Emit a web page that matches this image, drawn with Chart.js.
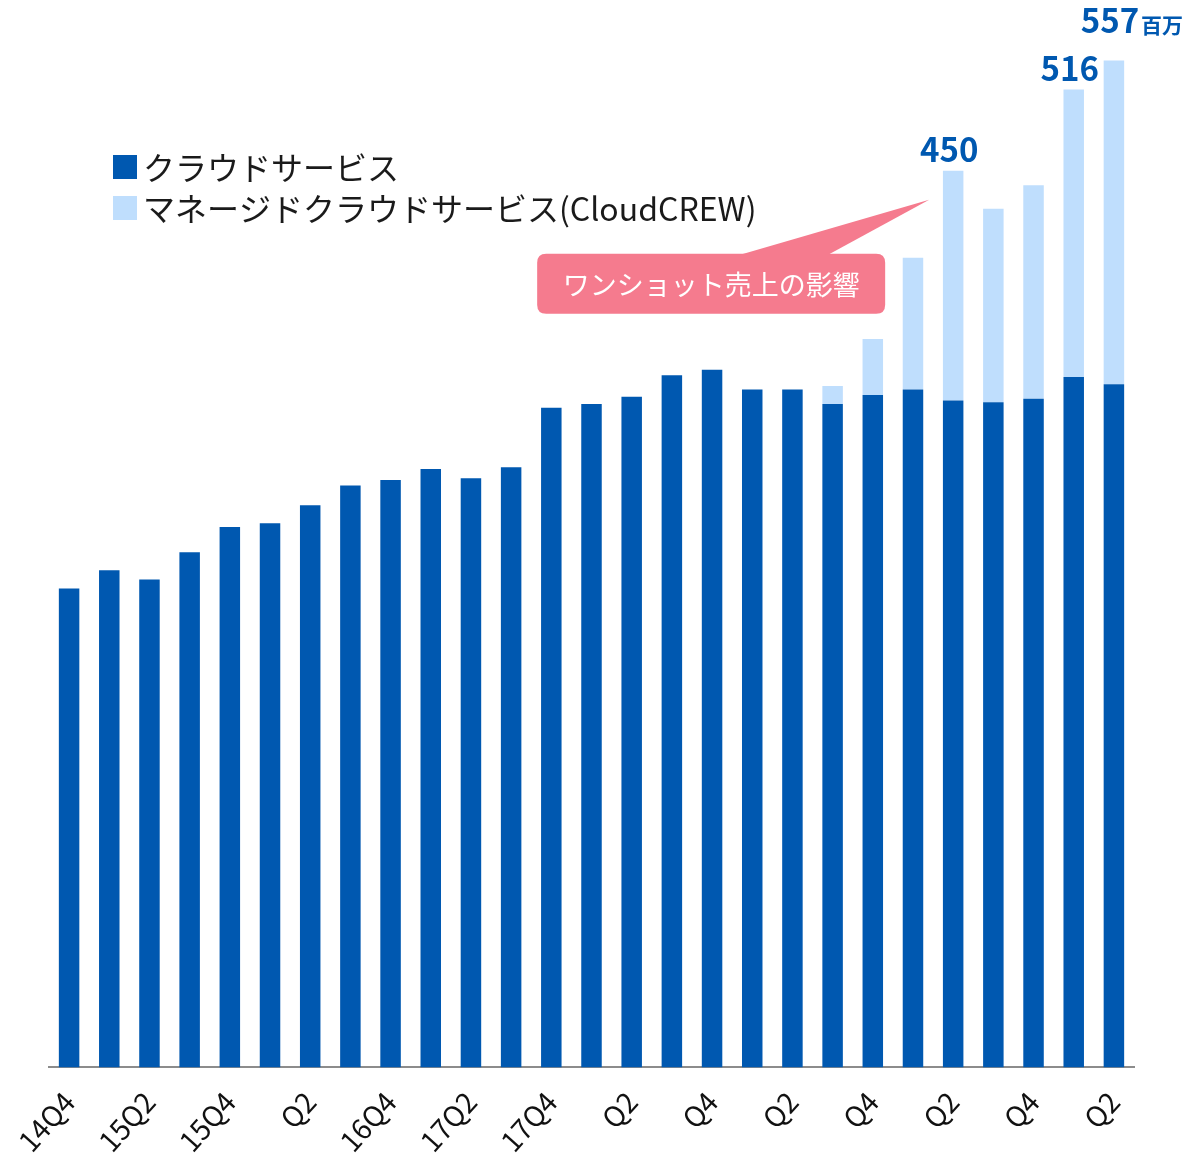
<!DOCTYPE html>
<html lang="ja">
<head>
<meta charset="utf-8">
<title>売上推移</title>
<script src="https://cdn.jsdelivr.net/npm/chart.js@4.4.0/dist/chart.umd.min.js"></script>
<style>
  html, body { margin: 0; padding: 0; background: #fff; overflow: hidden; }
  #wrap { position: relative; width: 1184px; height: 1164px; overflow: hidden; }
</style>
</head>
<body>
<div id="wrap"><canvas id="salesChart" width="1184" height="1168"></canvas></div>
<script>
// quarters 14Q4 .. 21Q2
const quarters = ['14Q4','15Q1','15Q2','15Q3','15Q4','16Q1','16Q2','16Q3','16Q4',
  '17Q1','17Q2','17Q3','17Q4','18Q1','18Q2','18Q3','18Q4','19Q1','19Q2','19Q3',
  '19Q4','20Q1','20Q2','20Q3','20Q4','21Q1','21Q2'];
const tickLabels = ['14Q4','','15Q2','','15Q4','','Q2','','16Q4','','17Q2','','17Q4','',
  'Q2','','Q4','','Q2','','Q4','','Q2','','Q4','','Q2'];

// 百万円
const cloudService = [265, 275, 270, 285, 299, 301, 311, 322, 325, 331, 326, 332, 365, 367,
  371, 383, 386, 375, 375, 367, 372, 375, 369, 368, 370, 382, 378];
const managedService = [0, 0, 0, 0, 0, 0, 0, 0, 0, 0, 0, 0, 0, 0,
  0, 0, 0, 0, 0, 10, 31, 73, 127, 107, 118, 159, 179];
const totalLabels = ['', '', '', '', '', '', '', '', '', '', '', '', '', '',
  '', '', '', '', '', '', '', '', '450', '', '', '516', '557'];
const unitLabel = '百万';
const seriesNames = ['クラウドサービス', 'マネージドクラウドサービス(CloudCREW)'];
const calloutText = 'ワンショット売上の影響';
const calloutIndex = 22;

const DARK = '#0058b0';
const LIGHT = '#bfdefd';
const PINK = '#f57b8e';
const JP = '"Noto Sans CJK JP", "Noto Sans", sans-serif';

function roundRect(ctx, x, y, w, h, r) {
  ctx.beginPath();
  ctx.moveTo(x + r, y);
  ctx.lineTo(x + w - r, y);
  ctx.quadraticCurveTo(x + w, y, x + w, y + r);
  ctx.lineTo(x + w, y + h - r);
  ctx.quadraticCurveTo(x + w, y + h, x + w - r, y + h);
  ctx.lineTo(x + r, y + h);
  ctx.quadraticCurveTo(x, y + h, x, y + h - r);
  ctx.lineTo(x, y + r);
  ctx.quadraticCurveTo(x, y, x + r, y);
  ctx.closePath();
}

// totals above bars, legend, callout
const decorations = {
  id: 'decorations',
  afterDraw(chart) {
    const ctx = chart.ctx;
    const xs = chart.scales.x, ys = chart.scales.y;
    const area = chart.chartArea;

    // totals
    ctx.save();
    ctx.fillStyle = DARK;
    ctx.textBaseline = 'alphabetic';
    totalLabels.forEach((t, i) => {
      if (!t) return;
      const x = xs.getPixelForValue(i);
      const y = ys.getPixelForValue(cloudService[i] + managedService[i]);
      const last = i === totalLabels.length - 1;
      ctx.font = 'bold 33px ' + JP;
      ctx.textAlign = 'center';
      const nx = x - 4;
      const ny = last ? y - 28 : y - 9;
      ctx.fillText(t, nx, ny);
      if (last) {
        const w = ctx.measureText(t).width;
        ctx.font = 'bold 21px ' + JP;
        ctx.textAlign = 'left';
        ctx.fillText(unitLabel, nx + w / 2 + 2, ny);
      }
    });
    ctx.restore();

    // legend
    ctx.save();
    const lx = area.left + 64;
    [DARK, LIGHT].forEach((c, k) => {
      const ly = 155 + k * 41;
      ctx.fillStyle = c;
      ctx.fillRect(lx, ly, 24, 24);
      ctx.fillStyle = '#1a1a1a';
      ctx.font = '32px ' + JP;
      ctx.textAlign = 'left';
      ctx.textBaseline = 'middle';
      ctx.fillText(seriesNames[k], lx + 30, ly + 13);
    });
    ctx.restore();

    // callout
    ctx.save();
    const bx = xs.getPixelForValue(calloutIndex);
    const by = ys.getPixelForValue(cloudService[calloutIndex] + managedService[calloutIndex]);
    const tipX = bx - 24, tipY = by + 29;
    const boxR = tipX - 44, boxL = boxR - 348, boxT = tipY + 54, boxH = 60;
    ctx.fillStyle = PINK;
    roundRect(ctx, boxL, boxT, 348, boxH, 9);
    ctx.fill();
    ctx.beginPath();
    ctx.moveTo(boxL + 203, boxT + 1);
    ctx.lineTo(boxL + 291, boxT + 1);
    ctx.lineTo(tipX, tipY);
    ctx.closePath();
    ctx.fill();
    ctx.fillStyle = '#fff';
    ctx.font = '27px ' + JP;
    ctx.textAlign = 'center';
    ctx.textBaseline = 'middle';
    ctx.fillText(calloutText, boxL + 174, boxT + boxH / 2 + 1);
    ctx.restore();
  }
};

new Chart(document.getElementById('salesChart'), {
  type: 'bar',
  data: {
    labels: quarters,
    datasets: [
      { label: seriesNames[0], data: cloudService, backgroundColor: DARK },
      { label: seriesNames[1], data: managedService, backgroundColor: LIGHT }
    ]
  },
  options: {
    responsive: false,
    animation: false,
    events: [],
    layout: { padding: { left: 49, right: 50, top: 10, bottom: 0 } },
    datasets: { bar: { barPercentage: 0.51, categoryPercentage: 1.0 } },
    plugins: { legend: { display: false }, tooltip: { enabled: false } },
    scales: {
      x: {
        stacked: true,
        grid: { display: false },
        border: { display: true, color: '#8c8c8c', width: 2 },
        ticks: {
          autoSkip: false,
          minRotation: 48,
          maxRotation: 48,
          padding: 10,
          color: '#111',
          font: { family: JP, size: 28 },
          callback: (v, i) => tickLabels[i]
        }
      },
      y: { stacked: true, display: false, min: 0, max: 585 }
    }
  },
  plugins: [decorations]
});
</script>
</body>
</html>
